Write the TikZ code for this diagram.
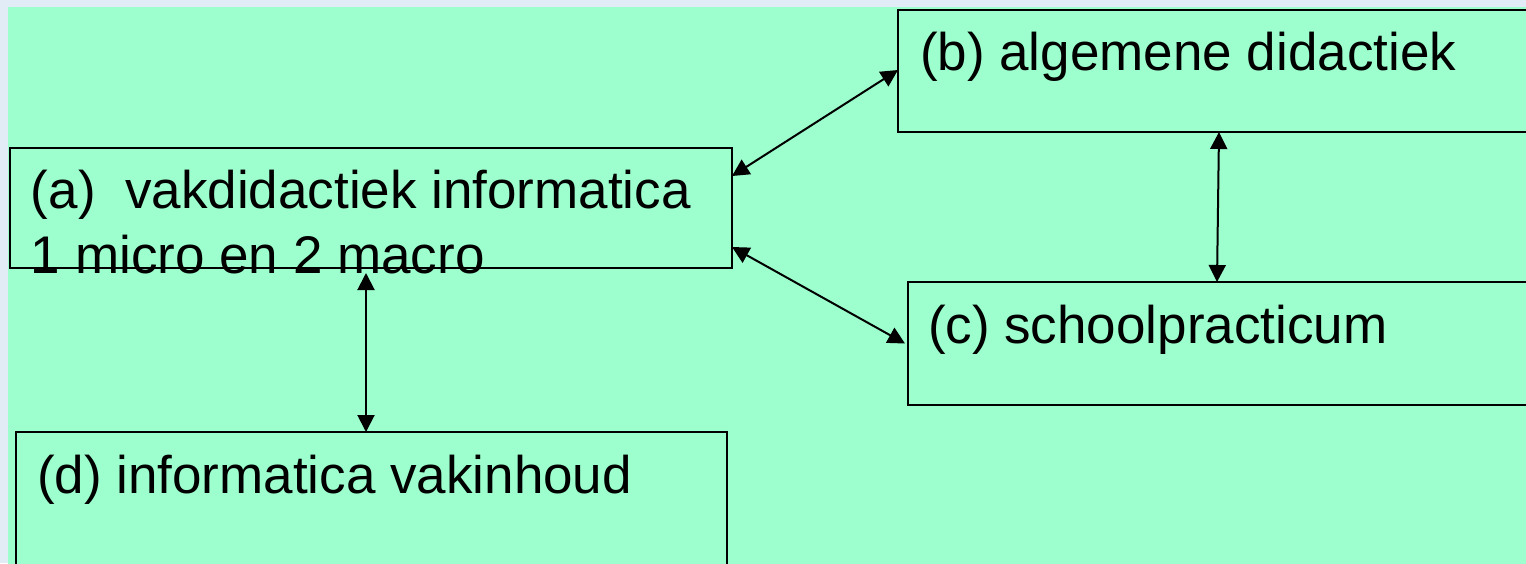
\documentclass[tikz,border=0pt]{standalone}
\usepackage{fontspec}
\setmainfont{Liberation Sans}
\usetikzlibrary{arrows.meta,calc}
\definecolor{bggreen}{RGB}{157,255,206}
\definecolor{outer}{RGB}{226,236,246}
\tikzset{
  boxnode/.style={draw=black,line width=1pt,inner sep=0pt,outer sep=0pt,anchor=north west,fill=none},
  txt/.style={anchor=base west,inner sep=0pt,outer sep=0pt,font=\fontsize{26.5}{32.5}\selectfont,align=left},
  link/.style={line width=1pt,{Triangle[length=8.5pt,width=8.5pt]}-{Triangle[length=8.5pt,width=8.5pt]}}
}
\begin{document}
\begin{tikzpicture}[x=0.5pt,y=-0.5pt]
\useasboundingbox (0,0) rectangle (1526,563);
\clip (0,0) rectangle (1526,563);
\fill[outer] (0,0) rectangle (1526,563);
\fill[bggreen] (8,7) rectangle (1540,580);
% boxes
\node[boxnode,minimum width=361pt,minimum height=60pt] (a) at (10,148) {};
\node[boxnode,minimum width=330pt,minimum height=61pt] (b) at (898,10) {};
\node[boxnode,minimum width=325pt,minimum height=61.5pt] (c) at (908,282) {};
\node[boxnode,minimum width=355.5pt,minimum height=80pt] (d) at (16,432) {};
% texts
\node[txt] (ta) at (31,273) {(a)\ \ vakdidactiek informatica\\1 micro en 2 macro};
\node[txt] (tb) at (920,70) {(b) algemene didactiek};
\node[txt] (tc) at (928,343) {(c) schoolpracticum};
\node[txt] (td) at (37,493) {(d) informatica vakinhoud};
% connectors
\draw[link] ([yshift=-14pt]a.north east) -- ([yshift=-30pt]b.north west);
\draw[link] ([yshift=10.5pt]a.south east) -- ([xshift=-1.5pt]c.west);
\draw[link] ([xshift=160.5pt]b.south west) -- ([xshift=154.5pt]c.north west);
\draw[link] ([xshift=178pt,yshift=-2.5pt]a.south west) -- ([xshift=175pt]d.north west);
\end{tikzpicture}
\end{document}
